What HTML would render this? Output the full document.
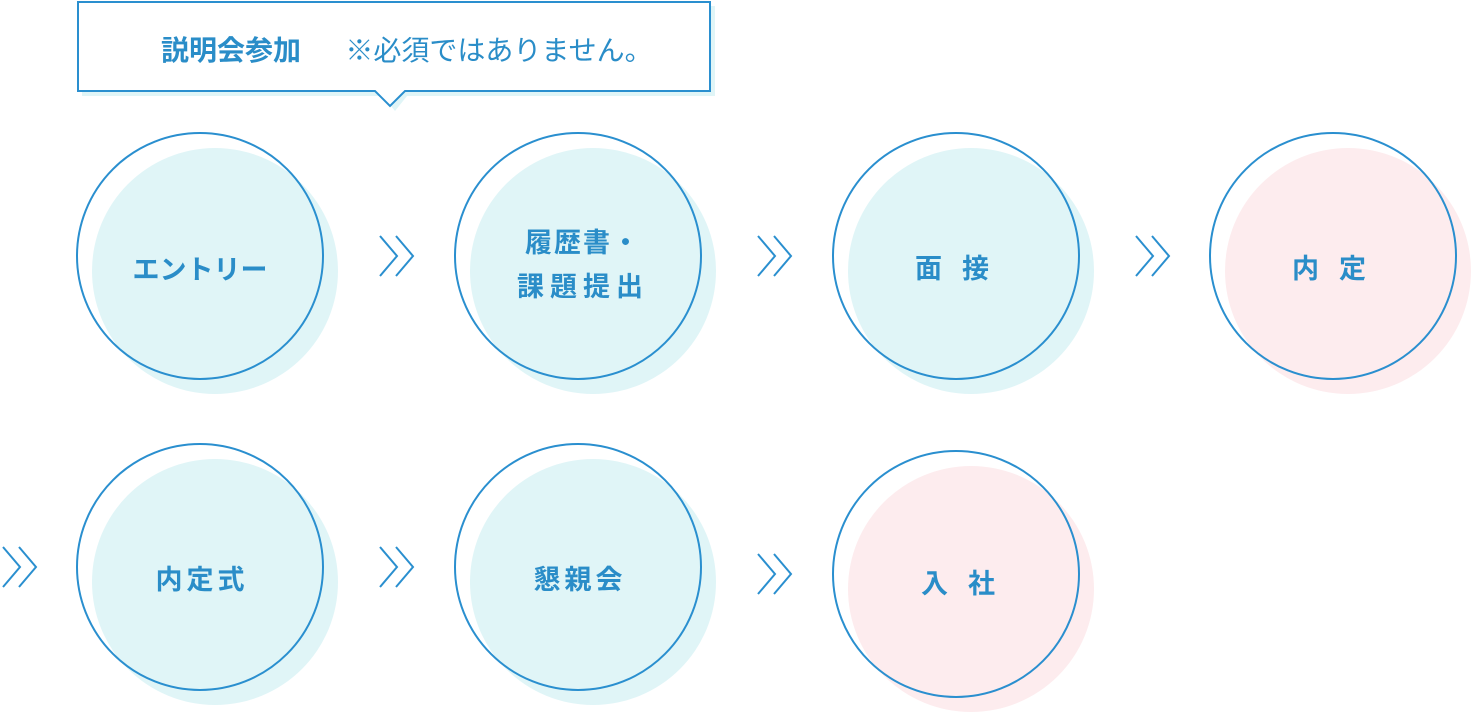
<!DOCTYPE html>
<html><head><meta charset="utf-8"><style>
body{margin:0;width:1472px;height:713px;background:#fff;overflow:hidden}
svg{display:block}
text{font-family:"Liberation Sans","Noto Sans CJK JP",sans-serif;fill:#2a8dc8;font-weight:bold;text-anchor:middle}
</style></head><body>
<svg width="1472" height="713" viewBox="0 0 1472 713">
<polygon points="82,6 715,6 715,96 407,96 395,111 383,96 82,96" fill="#e0f5f7"/>
<polygon points="78,2 710,2 710,91 405,91 390,106 375,91 78,91" fill="#fff" stroke="#2a8fcf" stroke-width="2"/>
<text x="231" y="60" font-size="28">説明会参加</text>
<text x="499" y="60" font-size="28" style="font-weight:normal">※必須ではありません。</text>
<g>
<circle cx="215" cy="271" r="123" fill="#e0f5f7"/>
<circle cx="593" cy="271" r="123" fill="#e0f5f7"/>
<circle cx="971" cy="271" r="123" fill="#e0f5f7"/>
<circle cx="1348" cy="271" r="123" fill="#fdecee"/>
<circle cx="215" cy="582" r="123" fill="#e0f5f7"/>
<circle cx="593" cy="582" r="123" fill="#e0f5f7"/>
<circle cx="971" cy="589" r="123" fill="#fdecee"/>
</g>
<g fill="none" stroke="#2a8fcf" stroke-width="2">
<circle cx="200" cy="256" r="123"/>
<circle cx="578" cy="256" r="123"/>
<circle cx="956" cy="256" r="123"/>
<circle cx="1333" cy="256" r="123"/>
<circle cx="200" cy="567" r="123"/>
<circle cx="578" cy="567" r="123"/>
<circle cx="956" cy="574" r="123"/>
</g>
<g fill="none" stroke="#2a8fcf" stroke-width="2">
<path d="M380,236 L397,256 L380,276 M396,236 L413,256 L396,276"/>
<path d="M758,236 L775,256 L758,276 M774,236 L791,256 L774,276"/>
<path d="M1136,236 L1153,256 L1136,276 M1152,236 L1169,256 L1152,276"/>
<path d="M3,547 L20,567 L3,587 M19,547 L36,567 L19,587"/>
<path d="M380,547 L397,567 L380,587 M396,547 L413,567 L396,587"/>
<path d="M758,554 L775,574 L758,594 M774,554 L791,574 L774,594"/>
</g>
<text x="200" y="279" font-size="27">エントリー</text>
<text x="583" y="252" font-size="27" letter-spacing="2">履歴書・</text>
<text x="583" y="296" font-size="27" letter-spacing="6">課題提出</text>
<text x="962" y="278" font-size="27" letter-spacing="20">面接</text>
<text x="1339" y="278" font-size="27" letter-spacing="20">内定</text>
<text x="202" y="589" font-size="27" letter-spacing="4">内定式</text>
<text x="580" y="589" font-size="27" letter-spacing="4">懇親会</text>
<text x="968" y="593" font-size="27" letter-spacing="20">入社</text>
</svg>
</body></html>
